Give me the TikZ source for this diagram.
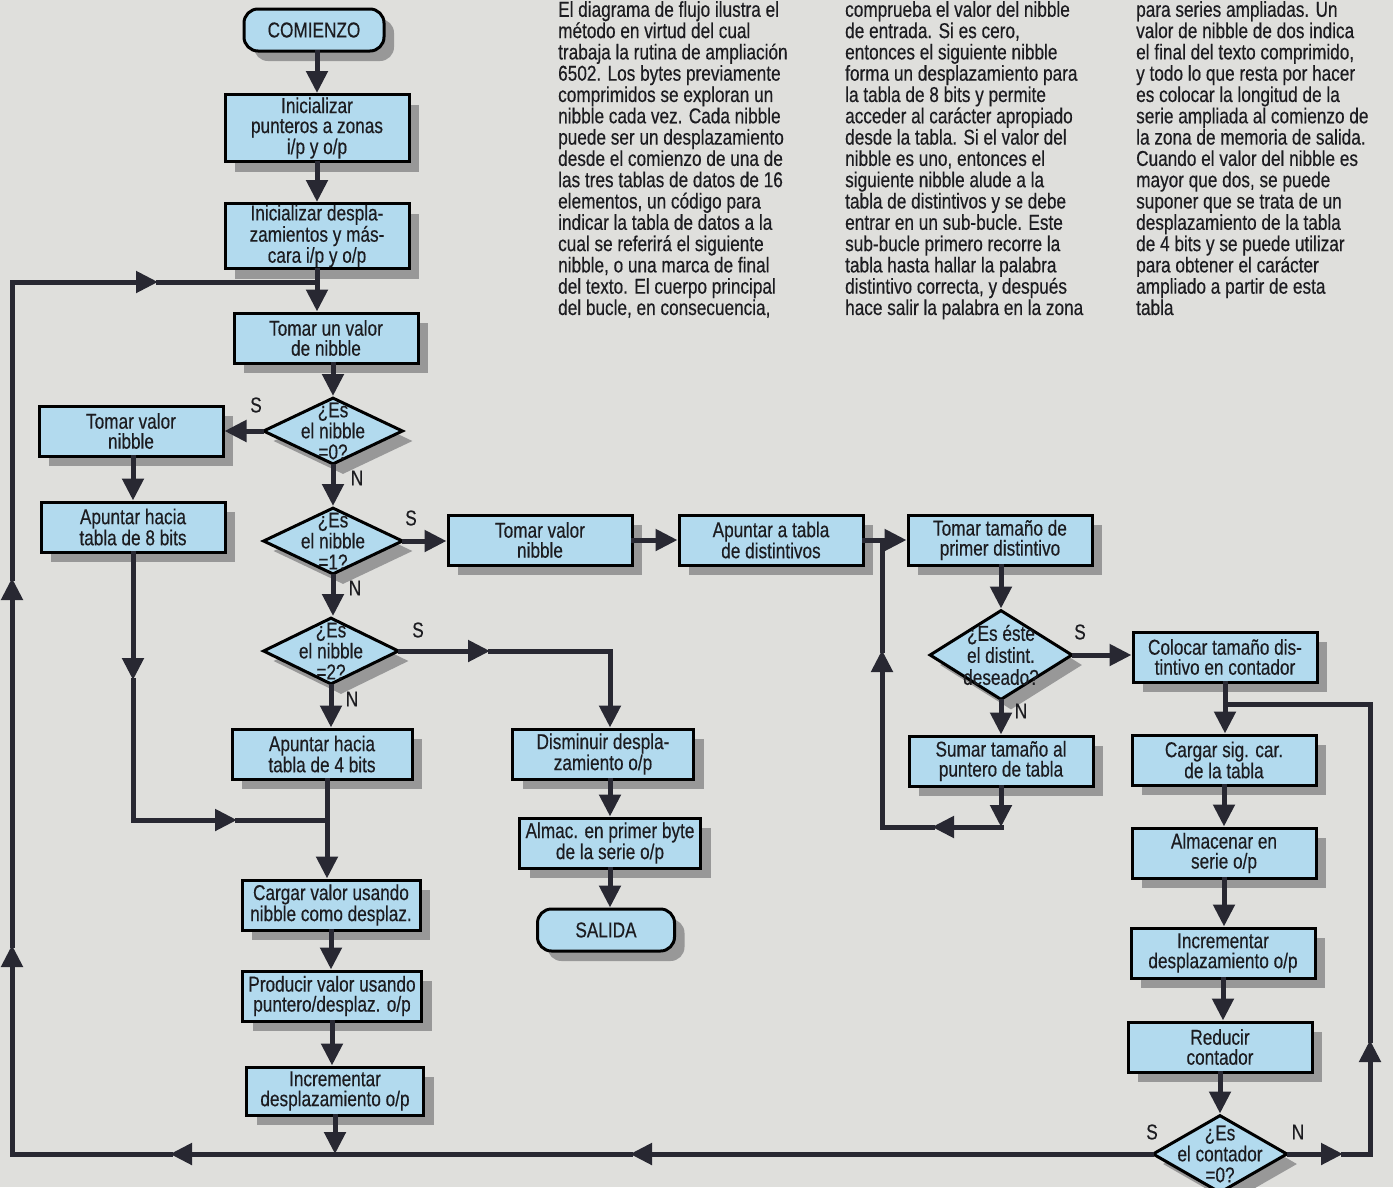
\documentclass[tikz,border=0pt]{standalone}
\usepackage{fontspec}
\setmainfont{Liberation Sans}[FakeStretch=0.8,FakeBold=0.4]
\usetikzlibrary{arrows.meta,shapes.geometric,shadows}
\definecolor{bgc}{RGB}{223,223,220}
\definecolor{boxc}{RGB}{178,218,238}
\definecolor{shc}{RGB}{152,152,152}
\definecolor{linec}{RGB}{40,40,50}
\definecolor{txtc}{RGB}{28,28,32}
\newcommand\bxf{\fontsize{21.5}{20}\selectfont}
\newcommand\dxf{\fontsize{21.5}{21}\selectfont}
\newcommand\colf{\fontsize{21.5}{21.3}\selectfont}
\begin{document}
\begin{tikzpicture}[x=1pt,y=-1pt,
  shad/.style={drop shadow={shadow xshift=10pt, shadow yshift=-10pt, fill=shc, opacity=1}},
  box/.style={draw=black, line width=3pt, fill=boxc, minimum width=184pt, minimum height=50pt, align=center, inner sep=0pt, font=\bxf, text=txtc, shad},
  term/.style={box, rounded corners=14pt, minimum width=140pt, minimum height=42pt},
  dia/.style={diamond, draw=black, line width=3pt, fill=boxc, minimum width=140pt, minimum height=67pt, inner sep=0pt, shad},
  dtext/.style={align=center, font=\dxf, text=txtc, inner sep=0pt},
  ln/.style={line width=5pt, draw=linec, line cap=rect},
  arr/.style={ln, -{Triangle[width=21pt,length=22pt]}},
  lab/.style={font=\bxf, text=txtc, inner sep=0pt},
  coltext/.style={align=left, font=\colf, text=txtc, inner sep=0pt, anchor=north west}]
\fill[bgc] (0,0) rectangle (1393,1187);
\useasboundingbox (0,0) rectangle (1393,1187);

% text columns
\node[coltext] (col1) at (558,1) {El diagrama de flujo ilustra el\\método en virtud del cual\\trabaja la rutina de ampliación\\6502. Los bytes previamente\\comprimidos se exploran un\\nibble cada vez. Cada nibble\\puede ser un desplazamiento\\desde el comienzo de una de\\las tres tablas de datos de 16\\elementos, un código para\\indicar la tabla de datos a la\\cual se referirá el siguiente\\nibble, o una marca de final\\del texto. El cuerpo principal\\del bucle, en consecuencia,};
\node[coltext] (col2) at (845,1) {comprueba el valor del nibble\\de entrada. Si es cero,\\entonces el siguiente nibble\\forma un desplazamiento para\\la tabla de 8 bits y permite\\acceder al carácter apropiado\\desde la tabla. Si el valor del\\nibble es uno, entonces el\\siguiente nibble alude a la\\tabla de distintivos y se debe\\entrar en un sub-bucle. Este\\sub-bucle primero recorre la\\tabla hasta hallar la palabra\\distintivo correcta, y después\\hace salir la palabra en la zona};
\node[coltext] (col3) at (1136,1) {para series ampliadas. Un\\valor de nibble de dos indica\\el final del texto comprimido,\\y todo lo que resta por hacer\\es colocar la longitud de la\\serie ampliada al comienzo de\\la zona de memoria de salida.\\Cuando el valor del nibble es\\mayor que dos, se puede\\suponer que se trata de un\\desplazamiento de la tabla\\de 4 bits y se puede utilizar\\para obtener el carácter\\ampliado a partir de esta\\tabla};

% nodes
\node[term] (start) at (314,30) {COMIENZO};
\node[box, minimum height=67pt] (init1) at (317,128) {Inicializar\\punteros a zonas\\i/p y o/p};
\node[box, minimum height=65pt] (init2) at (317,236) {Inicializar despla-\\zamientos y más-\\cara i/p y o/p};
\node[box] (take) at (326,338) {Tomar un valor\\de nibble};
\node[dia] (d0) at (333,431) {};
\node[dtext] (d0t) at (d0) {¿Es\\el nibble\\=0?};
\node[box] (tvl) at (131,431) {Tomar valor\\nibble};
\node[box] (a8) at (133,527) {Apuntar hacia\\tabla de 8 bits};
\node[dia] (d1) at (333,541) {};
\node[dtext] (d1t) at (d1) {¿Es\\el nibble\\=1?};
\node[box] (tvm) at (540,540) {Tomar valor\\nibble};
\node[box] (atd) at (771,540) {Apuntar a tabla\\de distintivos};
\node[box] (ttd) at (1000,540) {Tomar tamaño de\\primer distintivo};
\node[dia, minimum width=143pt, minimum height=90pt] (d3) at (1001,655) {};
\node[dtext, font=\fontsize{21.5}{22}\selectfont] (d3t) at (d3) {¿Es éste\\el distint.\\deseado?};
\node[box] (col) at (1225,657) {Colocar tamaño dis-\\tintivo en contador};
\node[box] (sum) at (1001,761) {Sumar tamaño al\\puntero de tabla};
\node[box] (csc) at (1224,760) {Cargar sig. car.\\de la tabla};
\node[box] (alm) at (1224,853) {Almacenar en\\serie o/p};
\node[box] (incr) at (1223,953) {Incrementar\\desplazamiento o/p};
\node[box] (red) at (1220,1047) {Reducir\\contador};
\node[dia, minimum width=135pt, minimum height=78pt] (d4) at (1220,1154) {};
\node[dtext] (d4t) at (d4) {¿Es\\el contador\\=0?};
\node[dia, minimum width=136pt] (d2) at (331,651) {};
\node[dtext] (d2t) at (d2) {¿Es\\el nibble\\=2?};
\node[box, minimum width=180pt] (a4) at (322,754) {Apuntar hacia\\tabla de 4 bits};
\node[box, minimum width=181pt] (dis) at (603,754) {Disminuir despla-\\zamiento o/p};
\node[box, minimum width=181pt] (amp) at (610,843) {Almac. en primer byte\\de la serie o/p};
\node[term, minimum width=137pt] (fin) at (606,930) {SALIDA};
\node[box, minimum width=178pt] (cv) at (331,905) {Cargar valor usando\\nibble como desplaz.};
\node[box, minimum width=179pt] (pv) at (332,996) {Producir valor usando\\puntero/desplaz. o/p};
\node[box, minimum width=177pt, minimum height=48pt] (incl) at (335,1091) {Incrementar\\desplazamiento o/p};

% labels
\node[lab] (s0) at (256,405) {S};
\node[lab] (n0) at (357,478) {N};
\node[lab] (s1) at (411,518) {S};
\node[lab] (n1) at (355,588) {N};
\node[lab] (s2) at (418,630) {S};
\node[lab] (n2) at (352,699) {N};
\node[lab] (s3) at (1080,632) {S};
\node[lab] (n3) at (1021,711) {N};
\node[lab] (s4) at (1152,1132) {S};
\node[lab] (n4) at (1298,1132) {N};

% coordinates
\coordinate (j1) at (317,282);
\coordinate (j2) at (882,540);
\coordinate (j3) at (1225,704);
\coordinate (c1) at (1001,827);
\coordinate (c2) at (932,827);
\coordinate (c3) at (882,827);
\coordinate (c4) at (882,650);
\coordinate (ma) at (133,680);
\coordinate (m0) at (133,820);
\coordinate (mb) at (237,820);
\coordinate (m1) at (327,820);
\coordinate (e1) at (490,651);
\coordinate (e2) at (610,651);
\coordinate (bA) at (630,1154);
\coordinate (bB) at (170,1154);
\coordinate (bC) at (12,1154);
\coordinate (bD) at (12,945);
\coordinate (bE) at (12,578);
\coordinate (bF) at (12,282);
\coordinate (bG) at (158,282);
\coordinate (r1) at (1343,1154);
\coordinate (r2) at (1370,1154);
\coordinate (r3) at (1370,1040);
\coordinate (r4) at (1370,704);

% connectors
\draw[arr] (start.south -| init1.north) -- (init1.north);
\draw[arr] (init1.south) -- (init1.south |- init2.north);
\draw[ln] (init2.south) -- (j1);
\draw[arr] (j1) -- (j1 |- take.north);
\draw[arr] (d0.north |- take.south) -- (d0.north);
\draw[arr] (d0.west) -- (d0.west -| tvl.east);
\draw[arr] (a8.north |- tvl.south) -- (a8.north);
\draw[arr] (d0.south) -- (d0.south |- d1.north);
\draw[arr] (d1.east) -- (d1.east -| tvm.west);
\draw[arr] (tvm.east) -- (tvm.east -| atd.west);
\draw[ln] (atd.east) -- (j2);
\draw[arr] (j2) -- (j2 -| ttd.west);
\draw[arr] (d3.north |- ttd.south) -- (d3.north);
\draw[arr] (d3.east) -- (d3.east -| col.west);
\draw[arr] (d3.south) -- (d3.south |- sum.north);
\draw[arr] (sum.south) -- (c1);
\draw[arr] (c1) -- (c2);
\draw[arr] (c2) -- (c3) -- (c4);
\draw[ln] (c4) -- (j2);
\draw[ln] (col.south) -- (j3);
\draw[arr] (j3) -- (j3 |- csc.north);
\draw[arr] (csc.south) -- (csc.south |- alm.north);
\draw[arr] (alm.south) -- (alm.south |- incr.north);
\draw[arr] (incr.south) -- (incr.south |- red.north);
\draw[arr] (red.south) -- (red.south |- d4.north);
\draw[arr] (d4.east) -- (r1);
\draw[arr] (r1) -- (r2) -- (r3);
\draw[ln] (r3) -- (r4) -- (j3);
\draw[arr] (d1.south) -- (d1.south |- d2.north);
\draw[arr] (d2.south) -- (d2.south |- a4.north);
\draw[arr] (d2.east) -- (e1);
\draw[ln] (e1) -- (e2);
\draw[arr] (e2) -- (e2 |- dis.north);
\draw[arr] (dis.south -| e2) -- (e2 |- amp.north);
\draw[arr] (amp.south -| e2) -- (e2 |- fin.north);
\draw[arr] (a8.south) -- (ma);
\draw[ln] (ma) -- (m0);
\draw[arr] (m0) -- (mb);
\draw[ln] (mb) -- (m1);
\draw[ln] (a4.south -| m1) -- (m1);
\draw[arr] (m1) -- (m1 |- cv.north);
\draw[arr] (cv.south) -- (cv.south |- pv.north);
\draw[arr] (pv.south) -- (pv.south |- incl.north);
\draw[arr] (incl.south) -- (incl.south |- d4.west);
\draw[arr] (d4.west) -- (bA);
\draw[arr] (bA) -- (bB);
\draw[arr] (bB) -- (bC) -- (bD);
\draw[arr] (bD) -- (bE);
\draw[arr] (bE) -- (bF) -- (bG);
\draw[ln] (bG) -- (j1);
\end{tikzpicture}
\end{document}
